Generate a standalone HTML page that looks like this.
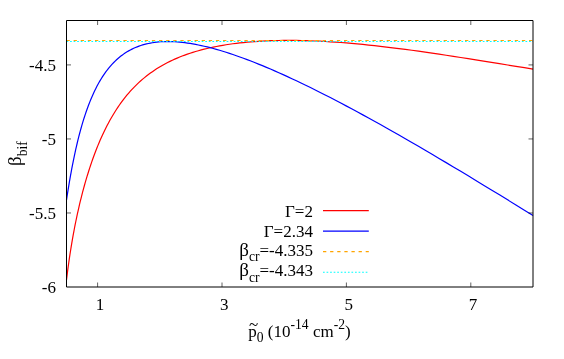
<!DOCTYPE html>
<html><head><meta charset="utf-8"><style>
html,body{margin:0;padding:0;background:#fff;}
svg{display:block;}
text{font-family:"Liberation Serif",serif;font-size:17px;fill:#000;}
.s{font-size:13.6px;} .b{font-size:19px;}
</style></head><body>
<svg width="564" height="359" viewBox="0 0 564 359">
<rect width="564" height="359" fill="#fff"/>
<g fill="none" stroke-linejoin="round">
<path d="M66.50,280.01 L67.05,275.56 L67.60,271.20 L68.17,266.95 L68.75,262.78 L69.33,258.70 L69.93,254.69 L70.54,250.76 L71.16,246.90 L71.78,243.11 L72.42,239.37 L73.08,235.70 L73.74,232.07 L74.41,228.50 L75.10,224.98 L75.80,221.50 L76.51,218.07 L77.23,214.68 L77.97,211.32 L78.72,208.01 L79.48,204.73 L80.25,201.48 L81.04,198.27 L81.85,195.10 L82.66,191.95 L83.49,188.83 L84.34,185.75 L85.20,182.69 L86.08,179.67 L86.97,176.67 L87.88,173.70 L88.80,170.76 L89.74,167.85 L90.69,164.97 L91.67,162.12 L92.66,159.29 L93.66,156.50 L94.69,153.73 L95.73,151.00 L96.79,148.29 L97.87,145.61 L98.97,142.97 L100.09,140.35 L101.23,137.77 L102.38,135.21 L103.56,132.69 L104.76,130.20 L105.98,127.74 L107.22,125.32 L108.49,122.93 L109.77,120.57 L111.08,118.25 L112.41,115.96 L113.77,113.70 L115.15,111.48 L116.55,109.29 L117.98,107.14 L119.43,105.03 L120.91,102.95 L122.41,100.90 L123.94,98.89 L125.50,96.92 L127.08,94.98 L128.70,93.08 L130.34,91.22 L132.01,89.39 L133.71,87.59 L135.44,85.84 L137.20,84.12 L138.99,82.43 L140.81,80.78 L142.66,79.17 L144.55,77.59 L146.47,76.05 L148.42,74.55 L150.41,73.08 L152.43,71.64 L154.49,70.24 L156.59,68.87 L158.72,67.54 L160.89,66.24 L163.10,64.98 L165.34,63.75 L167.63,62.55 L169.95,61.39 L172.32,60.26 L174.73,59.16 L177.18,58.10 L179.68,57.06 L182.21,56.06 L184.80,55.09 L187.42,54.15 L190.10,53.25 L192.82,52.37 L195.59,51.53 L198.41,50.72 L201.27,49.93 L204.19,49.18 L207.16,48.46 L210.18,47.77 L213.26,47.11 L216.38,46.48 L219.57,45.88 L222.81,45.31 L226.10,44.77 L229.46,44.26 L232.87,43.78 L236.35,43.34 L239.88,42.92 L243.48,42.53 L247.14,42.18 L250.86,41.86 L254.65,41.57 L258.51,41.31 L262.43,41.08 L266.43,40.88 L270.49,40.72 L274.63,40.59 L278.84,40.50 L283.12,40.44 L287.48,40.41 L291.91,40.42 L296.42,40.46 L301.01,40.54 L305.69,40.66 L310.44,40.81 L315.28,41.00 L320.20,41.22 L325.21,41.49 L330.31,41.79 L335.50,42.13 L340.78,42.52 L346.15,42.94 L351.61,43.40 L357.18,43.90 L362.84,44.44 L368.60,45.03 L374.46,45.65 L380.42,46.32 L386.49,47.03 L392.67,47.78 L398.95,48.57 L405.35,49.40 L411.85,50.27 L418.48,51.18 L425.21,52.14 L432.07,53.13 L439.05,54.16 L446.15,55.23 L453.37,56.33 L460.73,57.47 L468.21,58.65 L475.82,59.86 L483.57,61.09 L491.45,62.36 L499.47,63.65 L507.64,64.97 L515.95,66.31 L524.40,67.67 L533.00,69.04" stroke="#ff0000" stroke-width="1.2"/>
<path d="M66.50,200.14 L67.05,196.53 L67.60,192.95 L68.17,189.40 L68.75,185.87 L69.33,182.37 L69.93,178.90 L70.54,175.46 L71.16,172.05 L71.78,168.67 L72.42,165.33 L73.08,162.03 L73.74,158.76 L74.41,155.53 L75.10,152.33 L75.80,149.18 L76.51,146.06 L77.23,142.99 L77.97,139.96 L78.72,136.97 L79.48,134.02 L80.25,131.11 L81.04,128.25 L81.85,125.43 L82.66,122.66 L83.49,119.93 L84.34,117.24 L85.20,114.60 L86.08,112.01 L86.97,109.46 L87.88,106.96 L88.80,104.51 L89.74,102.10 L90.69,99.74 L91.67,97.43 L92.66,95.16 L93.66,92.94 L94.69,90.77 L95.73,88.64 L96.79,86.57 L97.87,84.54 L98.97,82.55 L100.09,80.62 L101.23,78.73 L102.38,76.89 L103.56,75.10 L104.76,73.35 L105.98,71.66 L107.22,70.01 L108.49,68.40 L109.77,66.85 L111.08,65.34 L112.41,63.88 L113.77,62.46 L115.15,61.10 L116.55,59.77 L117.98,58.50 L119.43,57.27 L120.91,56.09 L122.41,54.96 L123.94,53.87 L125.50,52.82 L127.08,51.83 L128.70,50.88 L130.34,49.98 L132.01,49.12 L133.71,48.31 L135.44,47.54 L137.20,46.82 L138.99,46.15 L140.81,45.52 L142.66,44.94 L144.55,44.40 L146.47,43.91 L148.42,43.47 L150.41,43.07 L152.43,42.72 L154.49,42.41 L156.59,42.15 L158.72,41.94 L160.89,41.77 L163.10,41.65 L165.34,41.58 L167.63,41.55 L169.95,41.57 L172.32,41.64 L174.73,41.75 L177.18,41.92 L179.68,42.13 L182.21,42.39 L184.80,42.70 L187.42,43.05 L190.10,43.46 L192.82,43.91 L195.59,44.42 L198.41,44.97 L201.27,45.58 L204.19,46.23 L207.16,46.94 L210.18,47.70 L213.26,48.51 L216.38,49.38 L219.57,50.29 L222.81,51.27 L226.10,52.29 L229.46,53.37 L232.87,54.51 L236.35,55.70 L239.88,56.95 L243.48,58.26 L247.14,59.62 L250.86,61.04 L254.65,62.53 L258.51,64.07 L262.43,65.67 L266.43,67.34 L270.49,69.07 L274.63,70.86 L278.84,72.71 L283.12,74.63 L287.48,76.61 L291.91,78.67 L296.42,80.78 L301.01,82.97 L305.69,85.23 L310.44,87.55 L315.28,89.95 L320.20,92.42 L325.21,94.96 L330.31,97.57 L335.50,100.26 L340.78,103.03 L346.15,105.87 L351.61,108.79 L357.18,111.79 L362.84,114.87 L368.60,118.03 L374.46,121.27 L380.42,124.59 L386.49,128.00 L392.67,131.50 L398.95,135.08 L405.35,138.74 L411.85,142.50 L418.48,146.34 L425.21,150.28 L432.07,154.31 L439.05,158.43 L446.15,162.64 L453.37,166.95 L460.73,171.35 L468.21,175.86 L475.82,180.46 L483.57,185.16 L491.45,189.96 L499.47,194.86 L507.64,199.86 L515.95,204.97 L524.40,210.19 L533.00,215.51" stroke="#0000ff" stroke-width="1.2"/>
<path d="M66.5,40.5 H533.0" stroke="#ffa500" stroke-width="1.1" stroke-dasharray="3.3 3.816"/>
<path d="M66.5,41.55 H533.0" stroke="#00ffff" stroke-width="1.05" stroke-dasharray="1.7 1.858"/>
<path d="M323,210.7 H368.8" stroke="#ff0000" stroke-width="1.2"/>
<path d="M323,231.1 H368.8" stroke="#0000ff" stroke-width="1.2"/>
<path d="M323,251.6 H368.8" stroke="#ffa500" stroke-width="1.2" stroke-dasharray="3.3 3.816"/>
<path d="M323,272.3 H368.8" stroke="#00ffff" stroke-width="1.1" stroke-dasharray="1.7 1.858"/>
</g>
<g fill="none" stroke="#000" stroke-width="0.62"><path d="M97.60,287.0 v-4.5 M97.60,20.5 v4.5"/><path d="M222.00,287.0 v-4.5 M222.00,20.5 v4.5"/><path d="M346.40,287.0 v-4.5 M346.40,20.5 v4.5"/><path d="M470.80,287.0 v-4.5 M470.80,20.5 v4.5"/><path d="M66.5,64.92 h4.5 M533.0,64.92 h-4.5"/><path d="M66.5,138.94 h4.5 M533.0,138.94 h-4.5"/><path d="M66.5,212.97 h4.5 M533.0,212.97 h-4.5"/></g>
<path d="M66.5,20.5 H533.0 V287.0 H66.5 Z" fill="none" stroke="#000" stroke-width="1"/>
<g style="filter:grayscale(1)">
<text x="56" y="70.5" text-anchor="end">-4.5</text><text x="56" y="144.5" text-anchor="end">-5</text><text x="56" y="218.6" text-anchor="end">-5.5</text><text x="56" y="292.6" text-anchor="end">-6</text><text x="99.9" y="310.1" text-anchor="middle">1</text><text x="224.3" y="310.1" text-anchor="middle">3</text><text x="348.7" y="310.1" text-anchor="middle">5</text><text x="473.1" y="310.1" text-anchor="middle">7</text>
<text x="312.9" y="216.5" text-anchor="end">Γ=2</text>
<text x="312.9" y="237.0" text-anchor="end">Γ=2.34</text>
<text x="313.0" y="255.9" text-anchor="end"><tspan class="b">β</tspan><tspan class="s" dy="5.5">cr</tspan><tspan dy="-5.5">=-4.335</tspan></text>
<text x="313.0" y="276.1" text-anchor="end"><tspan class="b">β</tspan><tspan class="s" dy="5.5">cr</tspan><tspan dy="-5.5">=-4.343</tspan></text>
<text x="248.3" y="337">p<tspan class="s" dy="4.8">0</tspan><tspan dy="-4.8"> (10</tspan><tspan class="s" dy="-8.4">-14</tspan><tspan dy="8.4"> cm</tspan><tspan class="s" dy="-8.4">-2</tspan><tspan dy="8.4">)</tspan></text>
<text x="248.9" y="329.6">~</text>
<text transform="translate(21,166) rotate(-90)"><tspan class="b">β</tspan><tspan class="s" dy="5.5">bif</tspan></text>
</g>
</svg></body></html>
